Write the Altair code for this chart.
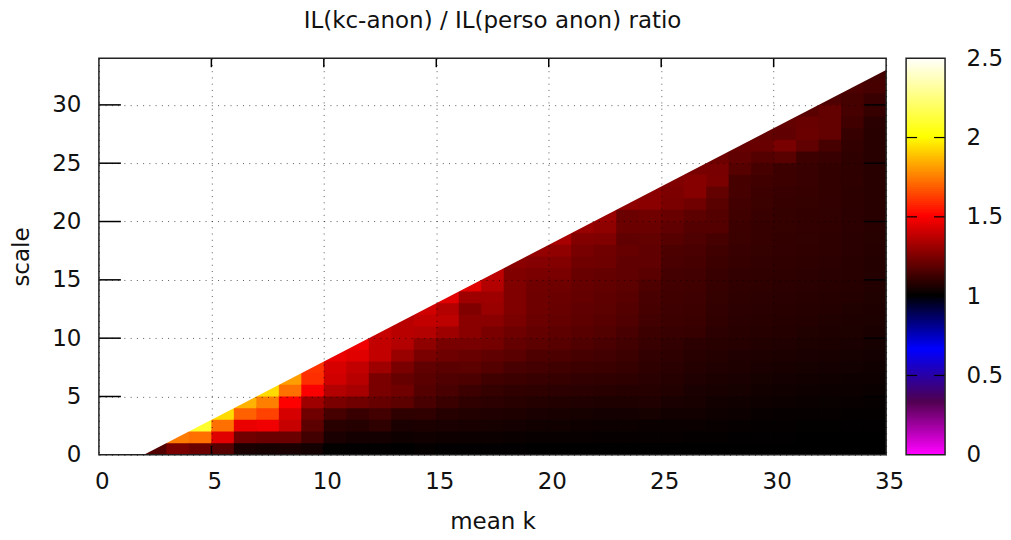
import altair as alt
import numpy as np
import pandas as pd

# Heatmap ratio values: one list per mean-k column (x = 2..34), rows scale = 0, 1, 2...
COLUMNS = {
 2: [1.16],
 3: [1.24, 1.74],
 4: [1.21, 1.72, 2.09],
 5: [1.17, 1.44, 1.72, 1.93],
 6: [1.05, 1.22, 1.46, 1.69, 1.85],
 7: [1.045, 1.21, 1.47, 1.63, 1.75, 1.93],
 8: [1.05, 1.21, 1.39, 1.42, 1.5, 1.72, 1.81],
 9: [1.04, 1.13, 1.18, 1.22, 1.31, 1.49, 1.59, 1.60],
 10: [1.006, 1.05, 1.08, 1.14, 1.24, 1.35, 1.41, 1.42, 1.46],
 11: [1.004, 1.04, 1.07, 1.11, 1.22, 1.33, 1.36, 1.38, 1.44, 1.47],
 12: [1.004, 1.04, 1.09, 1.13, 1.20, 1.24, 1.24, 1.31, 1.38, 1.38, 1.39],
 13: [1.002, 1.03, 1.05, 1.09, 1.18, 1.22, 1.20, 1.24, 1.30, 1.35, 1.36, 1.36],
 14: [1.008, 1.031, 1.055, 1.094, 1.141, 1.165, 1.176, 1.188, 1.24, 1.28, 1.35, 1.38, 1.41],
 15: [1.004, 1.027, 1.051, 1.075, 1.114, 1.141, 1.157, 1.176, 1.216, 1.235, 1.31, 1.37, 1.35, 1.44],
 16: [1.004, 1.024, 1.047, 1.067, 1.094, 1.118, 1.149, 1.18, 1.204, 1.235, 1.27, 1.27, 1.25, 1.31, 1.44],
 17: [1.004, 1.024, 1.043, 1.063, 1.086, 1.102, 1.125, 1.165, 1.188, 1.227, 1.24, 1.27, 1.30, 1.31, 1.35, 1.37],
 18: [1.004, 1.02, 1.039, 1.059, 1.078, 1.094, 1.118, 1.141, 1.176, 1.196, 1.216, 1.24, 1.25, 1.25, 1.25, 1.25, 1.27],
 19: [1.002, 1.016, 1.031, 1.051, 1.071, 1.09, 1.11, 1.133, 1.153, 1.18, 1.196, 1.208, 1.216, 1.216, 1.22, 1.24, 1.26, 1.29],
 20: [1.002, 1.016, 1.031, 1.047, 1.067, 1.086, 1.106, 1.125, 1.149, 1.173, 1.184, 1.196, 1.204, 1.208, 1.216, 1.24, 1.255, 1.285, 1.33],
 21: [1.002, 1.016, 1.027, 1.043, 1.063, 1.082, 1.098, 1.118, 1.137, 1.157, 1.173, 1.184, 1.188, 1.196, 1.2, 1.206, 1.22, 1.235, 1.255, 1.30],
 22: [1.002, 1.014, 1.025, 1.039, 1.059, 1.078, 1.094, 1.114, 1.129, 1.145, 1.161, 1.173, 1.18, 1.184, 1.192, 1.196, 1.216, 1.22, 1.25, 1.28, 1.30],
 23: [1.002, 1.014, 1.024, 1.039, 1.059, 1.075, 1.09, 1.106, 1.118, 1.129, 1.141, 1.157, 1.165, 1.173, 1.18, 1.19, 1.19, 1.20, 1.19, 1.21, 1.21, 1.28],
 24: [1, 1.012, 1.02, 1.043, 1.063, 1.075, 1.082, 1.09, 1.098, 1.11, 1.118, 1.129, 1.137, 1.141, 1.153, 1.176, 1.188, 1.19, 1.195, 1.21, 1.22, 1.27, 1.27],
 25: [1, 1.012, 1.02, 1.035, 1.051, 1.067, 1.075, 1.082, 1.09, 1.098, 1.11, 1.118, 1.122, 1.125, 1.129, 1.133, 1.145, 1.15, 1.17, 1.19, 1.205, 1.24, 1.245, 1.25],
 26: [1, 1.008, 1.02, 1.035, 1.047, 1.051, 1.063, 1.071, 1.078, 1.086, 1.106, 1.114, 1.118, 1.122, 1.125, 1.129, 1.137, 1.145, 1.155, 1.165, 1.18, 1.22, 1.265, 1.265, 1.235],
 27: [1, 1.008, 1.016, 1.027, 1.035, 1.047, 1.055, 1.063, 1.071, 1.078, 1.086, 1.094, 1.098, 1.102, 1.106, 1.11, 1.118, 1.125, 1.14, 1.165, 1.165, 1.175, 1.195, 1.24, 1.235, 1.215],
 28: [1, 1.004, 1.012, 1.024, 1.031, 1.043, 1.051, 1.059, 1.063, 1.075, 1.078, 1.082, 1.086, 1.09, 1.094, 1.098, 1.106, 1.11, 1.115, 1.12, 1.125, 1.13, 1.14, 1.14, 1.17, 1.19, 1.20],
 29: [1, 1.004, 1.008, 1.016, 1.027, 1.035, 1.043, 1.051, 1.059, 1.067, 1.075, 1.078, 1.082, 1.086, 1.09, 1.094, 1.098, 1.102, 1.106, 1.106, 1.11, 1.115, 1.12, 1.125, 1.14, 1.165, 1.205, 1.195],
 30: [1, 1.004, 1.008, 1.014, 1.024, 1.031, 1.039, 1.047, 1.055, 1.063, 1.07, 1.075, 1.078, 1.082, 1.086, 1.09, 1.094, 1.098, 1.1, 1.102, 1.102, 1.105, 1.11, 1.12, 1.12, 1.175, 1.235, 1.19, 1.195],
 31: [1, 1.002, 1.006, 1.012, 1.02, 1.027, 1.035, 1.043, 1.05, 1.057, 1.065, 1.07, 1.075, 1.078, 1.082, 1.086, 1.09, 1.094, 1.096, 1.098, 1.1, 1.102, 1.105, 1.11, 1.11, 1.12, 1.19, 1.21, 1.205, 1.175],
 32: [1, 1.002, 1.006, 1.012, 1.018, 1.025, 1.033, 1.04, 1.047, 1.054, 1.06, 1.065, 1.07, 1.074, 1.078, 1.082, 1.086, 1.09, 1.092, 1.094, 1.096, 1.098, 1.10, 1.10, 1.10, 1.11, 1.14, 1.195, 1.195, 1.195, 1.155],
 33: [1, 1.002, 1.004, 1.01, 1.016, 1.023, 1.03, 1.037, 1.043, 1.05, 1.056, 1.06, 1.065, 1.07, 1.074, 1.078, 1.08, 1.082, 1.084, 1.086, 1.086, 1.088, 1.088, 1.09, 1.09, 1.09, 1.10, 1.105, 1.125, 1.14, 1.135, 1.15],
 34: [1, 1.002, 1.004, 1.008, 1.014, 1.02, 1.027, 1.034, 1.04, 1.046, 1.052, 1.056, 1.06, 1.065, 1.068, 1.07, 1.072, 1.074, 1.076, 1.078, 1.078, 1.08, 1.08, 1.08, 1.08, 1.08, 1.08, 1.08, 1.085, 1.105, 1.11, 1.14, 1.135],
}
X_TICKS = [0, 5, 10, 15, 20, 25, 30, 35]
Y_TICKS = [0, 5, 10, 15, 20, 25, 30]
CB_TICKS = [0, 0.5, 1, 1.5, 2, 2.5]
CB_STOPS = [0, 0.33, 0.66, 1, 1.5, 2, 2.5]
CB_COLORS = ["#ff00ff", "#500050", "#0000ff", "#000000", "#ff0000", "#ffff00", "#ffffff"]
# The edge of the defined region (mean k, largest scale); white above it
EDGE_X = [0, 2, 35]
EDGE_Y = [0, 0, 33]
FONT = "DejaVu Sans"
FS = 23
INK = "#111111"
W, H = 788, 397
X_MAX, Y_MAX = 35, 34

# Cells overlap the next one slightly, so no seams show between them
rows = [{"x": i, "x2": i + 1.06, "y": j, "y2": j + 1.1, "v": v}
        for i, col in COLUMNS.items() for j, v in enumerate(col)]
cells = pd.DataFrame(rows)
edge = pd.DataFrame({"x": EDGE_X, "y": EDGE_Y, "top": [Y_MAX] * len(EDGE_X)})

color_scale = alt.Scale(domain=CB_STOPS, range=CB_COLORS, interpolate="rgb", clamp=True)
xs = alt.Scale(domain=[0, X_MAX], nice=False, zero=False)
ys = alt.Scale(domain=[0, Y_MAX], nice=False, zero=False)

heat = alt.Chart(cells).mark_rect(clip=True).encode(
    x=alt.X("x:Q", scale=xs, axis=alt.Axis(
        values=X_TICKS, title="mean k", grid=True, gridColor="#000000", gridOpacity=0.65,
        gridDash=[1, 5.25], gridWidth=1, tickSize=0, domain=False, labelPadding=16,
        labelFontSize=FS, labelFont=FONT, labelColor=INK, labelOffset=3, labelFlush=False,
        titleFont=FONT, titleFontSize=FS, titleFontWeight="normal", titlePadding=17,
        titleColor=INK, zindex=1, format="d")),
    x2="x2:Q",
    y=alt.Y("y:Q", scale=ys, axis=alt.Axis(
        values=Y_TICKS, title="scale", grid=True, gridColor="#000000", gridOpacity=0.65,
        gridDash=[1, 5.25], gridWidth=1, tickSize=0, domain=False, labelPadding=18,
        labelFontSize=FS, labelFont=FONT, labelColor=INK,
        titleFont=FONT, titleFontSize=FS, titleFontWeight="normal", titlePadding=18,
        titleColor=INK, zindex=1, format="d")),
    y2="y2:Q",
    color=alt.Color("v:Q", scale=color_scale, legend=None),
)

white = alt.Chart(edge).mark_area(color="#ffffff", opacity=1).encode(
    x=alt.X("x:Q", scale=xs), y=alt.Y("y:Q", scale=ys), y2="top:Q")

y_ticks = pd.DataFrame({"t": Y_TICKS[1:]})
x_ticks = pd.DataFrame({"t": X_TICKS[1:-1]})
tick_c = "#000000"
yl = alt.Chart(y_ticks).mark_rule(color=tick_c, strokeWidth=1.5).encode(
    y=alt.Y("t:Q", scale=ys), x=alt.value(0), x2=alt.value(22))
yr = alt.Chart(y_ticks).mark_rule(color=tick_c, strokeWidth=1.5).encode(
    y=alt.Y("t:Q", scale=ys), x=alt.value(W - 22), x2=alt.value(W))
xb = alt.Chart(x_ticks).mark_rule(color=tick_c, strokeWidth=1.5).encode(
    x=alt.X("t:Q", scale=xs), y=alt.value(H - 9), y2=alt.value(H))
xt = alt.Chart(x_ticks).mark_rule(color=tick_c, strokeWidth=1.5).encode(
    x=alt.X("t:Q", scale=xs), y=alt.value(0), y2=alt.value(9))

frame = alt.Chart(edge.head(1)).mark_rect(fill=None, stroke="#222222", strokeWidth=1.5).encode(
    x=alt.value(0), x2=alt.value(W), y=alt.value(0), y2=alt.value(H))

main = alt.layer(heat, white, yl, yr, xb, xt, frame).properties(
    width=W, height=H,
    title=alt.TitleParams("IL(kc-anon) / IL(perso anon) ratio", font=FONT, fontSize=FS,
                          fontWeight="normal", color=INK, anchor="middle", offset=24),
)

# Colour box: drawn bottom up, each band overlapping the next
levels = np.arange(0, 2.5, 0.0125)
bar = pd.DataFrame({"a": levels, "b": np.minimum(levels + 0.025, 2.5)})
cs = alt.Scale(domain=[0, 2.5], nice=False, zero=False)
cb_rect = alt.Chart(bar).mark_rect().encode(
    x=alt.value(0), x2=alt.value(39),
    y=alt.Y("a:Q", scale=cs, axis=alt.Axis(
        orient="right", values=CB_TICKS, title=None, tickSize=0, domain=False, grid=False,
        labelPadding=21, labelFontSize=FS, labelFont=FONT, labelColor=INK, format="~g")),
    y2="b:Q",
    color=alt.Color("a:Q", scale=color_scale, legend=None),
)
cb_ticks = pd.DataFrame({"t": CB_TICKS[1:-1]})
cbl = alt.Chart(cb_ticks).mark_rule(color="#000000", strokeWidth=1.2).encode(
    y=alt.Y("t:Q", scale=cs), x=alt.value(0), x2=alt.value(11))
cbr = alt.Chart(cb_ticks).mark_rule(color="#000000", strokeWidth=1.2).encode(
    y=alt.Y("t:Q", scale=cs), x=alt.value(28), x2=alt.value(39))
cb_frame = alt.Chart(cb_ticks.head(1)).mark_rect(fill=None, stroke="#222222", strokeWidth=1.5).encode(
    x=alt.value(0), x2=alt.value(39), y=alt.value(0), y2=alt.value(H))
colorbar = alt.layer(cb_rect, cbl, cbr, cb_frame).properties(width=39, height=H)

chart = alt.hconcat(main, colorbar, spacing=1).resolve_scale(color="independent").properties(
    padding={"left": 2, "top": 2, "right": 0, "bottom": 0}
).configure_view(stroke=None)

chart.save("out.html", embed_options={"renderer": "svg", "actions": False})
